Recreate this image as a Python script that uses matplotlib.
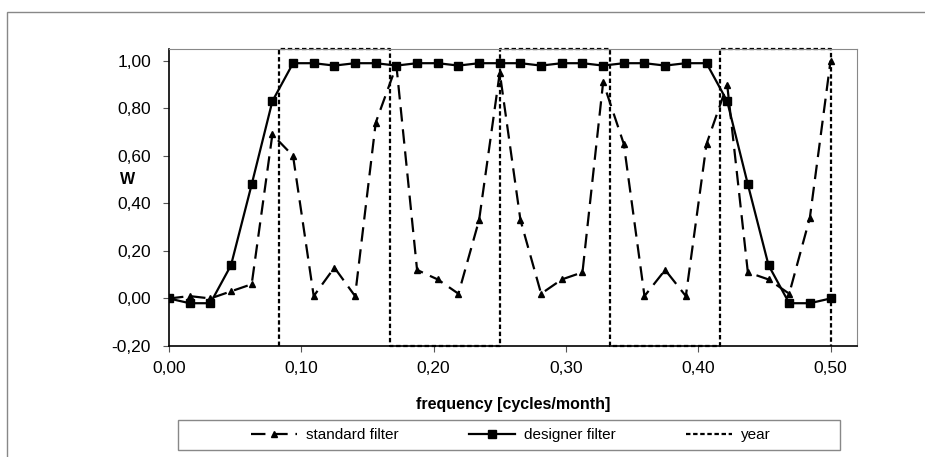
import matplotlib
matplotlib.use("Agg")
import matplotlib.pyplot as plt
from matplotlib.ticker import FuncFormatter, MultipleLocator
from matplotlib.patches import Rectangle

plt.rcParams['font.family'] = ['Liberation Sans', 'DejaVu Sans']

# frequencies: k/64 cycles/month, k = 0..32
freq = [k / 64 for k in range(33)]

standard_filter = [0.00, 0.01, 0.00, 0.03, 0.06, 0.69, 0.60, 0.01, 0.13, 0.01,
                   0.74, 0.98, 0.12, 0.08, 0.02, 0.33, 0.95, 0.33, 0.02, 0.08,
                   0.11, 0.91, 0.65, 0.01, 0.12, 0.01, 0.65, 0.90, 0.11, 0.08,
                   0.02, 0.34, 1.00]

designer_filter = [0.00, -0.02, -0.02, 0.14, 0.48, 0.83, 0.99, 0.99, 0.98, 0.99,
                   0.99, 0.98, 0.99, 0.99, 0.98, 0.99, 0.99, 0.99, 0.98, 0.99,
                   0.99, 0.98, 0.99, 0.99, 0.98, 0.99, 0.99, 0.83, 0.48, 0.14,
                   -0.02, -0.02, 0.00]

# yearly harmonics drawn as a square wave between axis bottom and top
year_x = [1/12, 1/12, 2/12, 2/12, 3/12, 3/12, 4/12, 4/12, 5/12, 5/12, 6/12, 6/12]
year_y = [-0.20, 1.05, 1.05, -0.20, -0.20, 1.05, 1.05, -0.20, -0.20, 1.05, 1.05, -0.20]

fig = plt.figure(figsize=(9.25, 4.57), dpi=100)
ax = fig.add_axes([0.1827, 0.2429, 0.7438, 0.650])

ax.plot(year_x, year_y, color='black', linestyle=(0, (2.0, 1.2)), linewidth=1.6,
        clip_on=False, label='year', zorder=2)
ax.plot(freq, standard_filter, color='black', linestyle=(0, (6.5, 3.5)), linewidth=1.6,
        marker='^', markersize=4, label='standard filter', zorder=3)
ax.plot(freq, designer_filter, color='black', linestyle='-', linewidth=1.6,
        marker='s', markersize=6, label='designer filter', zorder=4)

ax.set_xlim(0, 0.52)
ax.set_ylim(-0.20, 1.05)
ax.xaxis.set_major_locator(MultipleLocator(0.10))
ax.yaxis.set_major_locator(MultipleLocator(0.20))
comma = FuncFormatter(lambda v, p: f'{v:.2f}'.replace('.', ','))
ax.xaxis.set_major_formatter(comma)
ax.yaxis.set_major_formatter(comma)
ax.tick_params(axis='both', direction='out', length=4, width=0.8, labelsize=12.5,
               color='#555555')
ax.tick_params(axis='y', pad=9)
ax.tick_params(axis='x', pad=7)

for s in ['top', 'right']:
    ax.spines[s].set_color('#888888')
for s in ['left', 'bottom']:
    ax.spines[s].set_color('black')
    ax.spines[s].set_linewidth(1.2)

ax.set_xlabel('frequency [cycles/month]', fontsize=11.5, fontweight='bold', labelpad=15)
ax.set_ylabel('W', fontsize=11.5, fontweight='bold', rotation=0, va='center', ha='center')
ax.yaxis.set_label_coords(-0.06, 0.56)

handles, labels = ax.get_legend_handles_labels()
order = [1, 2, 0]
leg = fig.legend([handles[i] for i in order], [labels[i] for i in order],
                 loc='center', bbox_to_anchor=(511/925, 1 - 435/457),
                 ncol=3, fontsize=11, frameon=False,
                 handlelength=3.0, handletextpad=0.6, columnspacing=4.6)

# legend frame and outer chart border
fig.patches.append(Rectangle((178/925, 1 - 450/457), 662/925, 30/457,
                             transform=fig.transFigure, fill=False,
                             edgecolor='#888888', linewidth=1.0))
fig.patches.append(Rectangle((7/925, -0.1), 1.2, 0.1 + (457 - 12) / 457,
                             transform=fig.transFigure, fill=False,
                             edgecolor='#888888', linewidth=1.0))

fig.savefig('out.png', dpi=100)
